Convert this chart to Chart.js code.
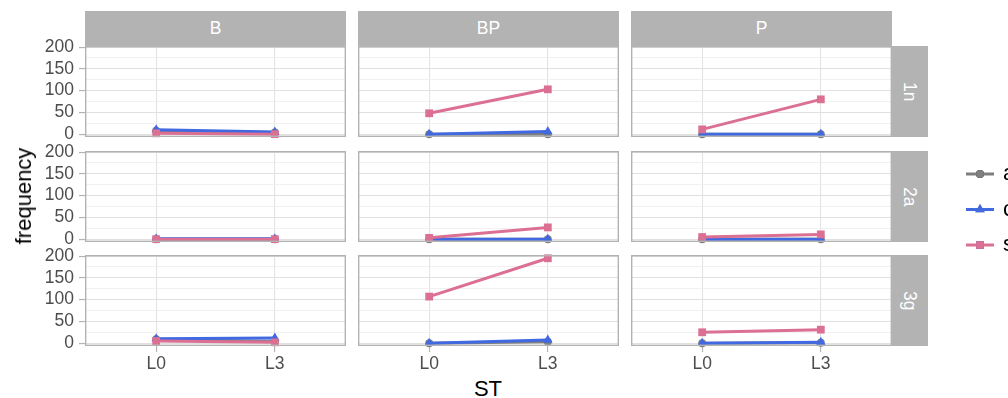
<!DOCTYPE html>
<html><head><meta charset="utf-8">
<script src="https://cdn.jsdelivr.net/npm/chart.js@4/dist/chart.umd.min.js"></script>
<style>
html,body{margin:0;padding:0;background:#fff;overflow:hidden;}
#wrap{position:relative;width:1008px;height:398px;overflow:hidden;font-family:"Liberation Sans",Arial,sans-serif;}
canvas{position:absolute;}
.strip{position:absolute;background:#b3b3b3;color:#fff;font-size:17.5px;display:flex;align-items:center;justify-content:center;}
.rot{transform:rotate(90deg);white-space:nowrap;line-height:1;}
.title{position:absolute;font-size:22px;color:#000;white-space:nowrap;line-height:1;}
.leg{position:absolute;font-size:22px;color:#000;white-space:nowrap;line-height:1;}
</style></head><body><div id="wrap"></div>
<script>
// ---- data ----
const ST = ['L0', 'L3'];
const facetCols = ['B', 'BP', 'P'];
const facetRows = ['1n', '2a', '3g'];
const seriesNames = ['a', 'c', 's'];
const yTicks = [0, 50, 100, 150, 200];
const yMinor = [25, 75, 125, 175];
// values indexed [row][col] = [L0, L3]
const freqA = [
  [[8, 4], [0, 0], [0, 0]],
  [[0, 0], [0, 0], [0, 0]],
  [[9, 4], [0, 3], [0, 1]]
];
const freqC = [
  [[10, 5], [0, 6], [0, 0]],
  [[1, 1], [0, 0], [0, 0]],
  [[10, 12], [0, 7], [0, 2]]
];
const freqS = [
  [[2, 0], [48, 103], [11, 80]],
  [[0, 0], [3, 27], [5, 11]],
  [[5, 2], [107, 195], [25, 31]]
];
const seriesVals = [freqA, freqC, freqS];

// ---- style / layout ----
const colors = ['#7f7f7f', '#4169e1', '#db7093'];
const shapes = ['circle', 'triangle', 'rect'];
const radii = [4, 5.5, 5.5];
const colLeft = [85, 358, 631];
const rowTop = [46, 151, 255];
const PW = 261, PH = 91, XAX = 30, M = 14;
const FONT = "'Liberation Sans', Arial, sans-serif";
const wrap = document.getElementById('wrap');

function div(cls, text, css) {
  const d = document.createElement('div');
  d.className = cls;
  Object.assign(d.style, css);
  if (text !== null) d.textContent = text;
  wrap.appendChild(d);
  return d;
}

// strips
facetCols.forEach((t, c) => {
  div('strip', t, {left: colLeft[c] + 'px', top: '11px', width: PW + 'px', height: '35px'});
});
facetRows.forEach((t, r) => {
  const s = div('strip', null, {left: (colLeft[2] + PW) + 'px', top: rowTop[r] + 'px', width: '36px', height: PH + 'px'});
  const sp = document.createElement('span'); sp.className = 'rot'; sp.textContent = t; s.appendChild(sp);
});

const borderPlugin = {
  id: 'panelBorder',
  afterDraw(chart) {
    const a = chart.chartArea, ctx = chart.ctx;
    ctx.save();
    ctx.strokeStyle = '#b3b3b3';
    ctx.lineWidth = 1.4;
    ctx.strokeRect(a.left + 0.7, a.top + 0.7, a.right - a.left - 1.4, a.bottom - a.top - 1.4);
    ctx.restore();
  }
};

function makeChart(r, c) {
  const isLeft = c === 0, isBottom = r === 2;
  const cv = document.createElement('canvas');
  const left = isLeft ? 0 : colLeft[c];
  const w = isLeft ? colLeft[0] + PW : PW;
  const h = PH + M + (isBottom ? XAX : M);
  cv.width = w; cv.height = h;
  Object.assign(cv.style, {left: left + 'px', top: (rowTop[r] - M) + 'px', width: w + 'px', height: h + 'px'});
  wrap.appendChild(cv);
  const datasets = seriesNames.map((name, s) => ({
    label: name,
    data: ST.map((lab, i) => ({x: i, y: seriesVals[s][r][c][i]})),
    borderColor: colors[s],
    backgroundColor: colors[s],
    pointBackgroundColor: colors[s],
    pointBorderWidth: 0,
    pointStyle: shapes[s],
    pointRadius: radii[s],
    borderWidth: 3,
    tension: 0,
    clip: false,
    order: 3 - s
  }));
  const allY = [...yTicks, ...yMinor].sort((a, b) => a - b);
  new Chart(cv, {
    type: 'line',
    data: {datasets},
    options: {
      responsive: false, animation: false, devicePixelRatio: 1,
      layout: {autoPadding: false, padding: {top: M, bottom: isBottom ? 0 : M, left: 0, right: 0}},
      plugins: {legend: {display: false}, tooltip: {enabled: false}},
      events: [],
      scales: {
        x: {
          type: 'linear', min: -0.6, max: 1.6,
          afterBuildTicks: s => { s.ticks = ST.map((_, i) => ({value: i})); },
          afterFit: s => { s.height = isBottom ? XAX : 0; s.paddingLeft = 0; s.paddingRight = 0; },
          ticks: {display: isBottom, callback: v => ST[v], color: '#4d4d4d', font: {size: 17.5, family: FONT}, padding: 2, autoSkip: false, maxRotation: 0},
          grid: {color: '#e3e3e3', lineWidth: 1.1, drawTicks: isBottom, tickLength: 6, tickColor: '#b3b3b3', tickWidth: 1.2},
          border: {display: false}
        },
        y: {
          type: 'linear', min: -6.5, max: 202.5,
          afterBuildTicks: s => { s.ticks = allY.map(v => ({value: v})); },
          afterFit: s => { s.width = isLeft ? colLeft[0] : 0; s.paddingTop = 0; s.paddingBottom = 0; },
          ticks: {display: isLeft, callback: v => yTicks.includes(v) ? String(v) : '', color: '#4d4d4d', font: {size: 17.5, family: FONT}, padding: 5, autoSkip: false},
          grid: {
            color: ctx => yTicks.includes(ctx.tick.value) ? '#e0e0e0' : '#eeeeee',
            lineWidth: ctx => yTicks.includes(ctx.tick.value) ? 1.1 : 0.8,
            drawTicks: isLeft, tickLength: 6,
            tickColor: ctx => yTicks.includes(ctx.tick.value) ? '#b3b3b3' : 'rgba(0,0,0,0)',
            tickWidth: 1.2
          },
          border: {display: false}
        }
      }
    },
    plugins: [borderPlugin]
  });
}
for (let r = 0; r < 3; r++) for (let c = 0; c < 3; c++) makeChart(r, c);

// axis titles
div('title', 'frequency', {left: '24px', top: '196px', transform: 'translate(-50%,-50%) rotate(-90deg)'});
div('title', 'ST', {left: '488px', top: '389px', transform: 'translate(-50%,-50%)'});

// legend
const legY = [174, 209.5, 245];
const lc = document.createElement('canvas');
lc.width = 50; lc.height = 120;
Object.assign(lc.style, {left: '960px', top: '150px', width: '50px', height: '120px'});
wrap.appendChild(lc);
const lctx = lc.getContext('2d');
seriesNames.forEach((name, s) => {
  const y = legY[s] - 150;
  lctx.strokeStyle = colors[s]; lctx.lineWidth = 3;
  lctx.beginPath(); lctx.moveTo(6, y); lctx.lineTo(34, y); lctx.stroke();
  Chart.helpers.drawPoint(lctx, {pointStyle: shapes[s], radius: radii[s], borderWidth: 0}, 20, y);
  lctx.fillStyle = colors[s];
  lctx.fill();
  div('leg', name, {left: '1003px', top: (legY[s] - 12) + 'px'});
});
</script>
</body></html>
